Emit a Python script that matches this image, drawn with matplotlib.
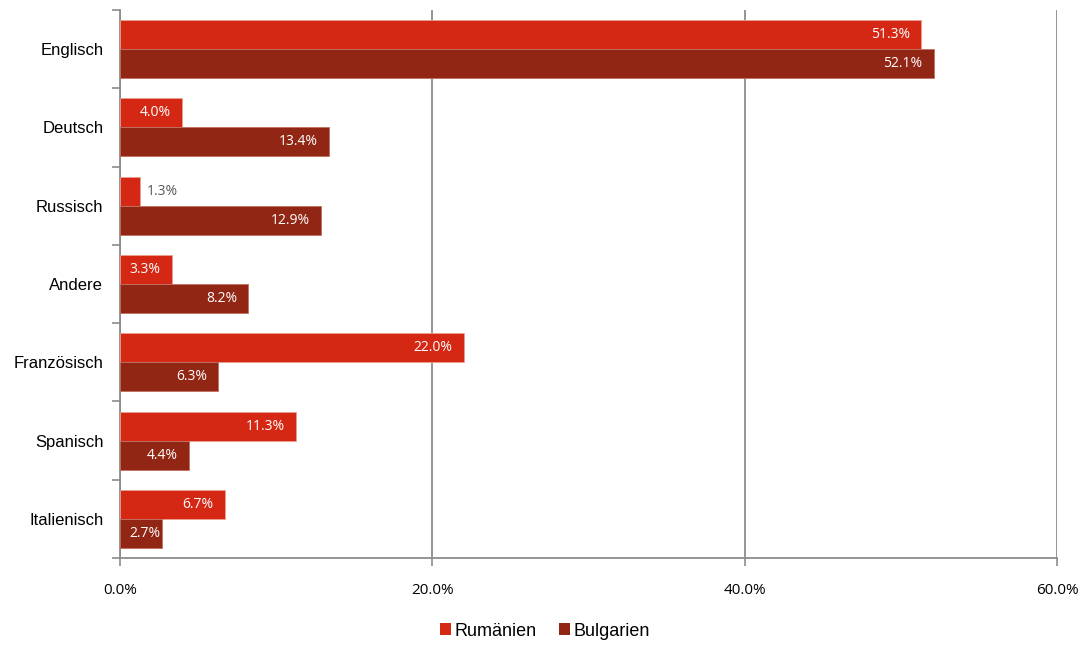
import matplotlib
matplotlib.use("Agg")
import matplotlib.pyplot as plt
import numpy as np

categories = ["Englisch", "Deutsch", "Russisch", "Andere", "Französisch", "Spanisch", "Italienisch"]
rumaenien = [51.3, 4.0, 1.3, 3.3, 22.0, 11.3, 6.7]
bulgarien = [52.1, 13.4, 12.9, 8.2, 6.3, 4.4, 2.7]
series_names = ["Rumänien", "Bulgarien"]
xticks = [0, 20, 40, 60]

c_rum = "#D42814"
c_bul = "#922614"
grid_c = "#8C8C8C"

fig = plt.figure(figsize=(10.83, 6.46), dpi=100)
ax = fig.add_axes([120/1083, 1-558/646, (1057-120)/1083, (558-10)/646])

y = np.arange(len(categories))
h = 0.37
b1 = ax.barh(y - h/2, rumaenien, height=h, color=c_rum, edgecolor="#E8A090", linewidth=0.6, label=series_names[0], zorder=3)
b2 = ax.barh(y + h/2, bulgarien, height=h, color=c_bul, edgecolor="#C07060", linewidth=0.6, label=series_names[1], zorder=3)

ax.set_xlim(0, 60)
ax.set_ylim(len(categories) - 0.5, -0.5)
ax.set_xticks(xticks)
ax.set_xticklabels([f"{v:.1f}%" for v in xticks], fontsize=11, family="Open Sans")
ax.set_yticks(y)
ax.set_yticklabels(categories, fontsize=12, family="Liberation Sans")
ax.set_yticks(np.arange(len(categories) + 1) - 0.5, minor=True)
ax.tick_params(axis="y", which="major", length=0, pad=12)
ax.tick_params(axis="y", which="minor", length=6, color=grid_c, width=1.2)
ax.tick_params(axis="x", length=6, color=grid_c, width=1.2, pad=12)

ax.grid(axis="x", color=grid_c, linewidth=1.3, zorder=0)
for s in ["top", "right"]:
    ax.spines[s].set_visible(False)
for s in ["left", "bottom"]:
    ax.spines[s].set_color(grid_c)
    ax.spines[s].set_linewidth(1.3)

def label(bars, vals):
    for bar, v in zip(bars, vals):
        yc = bar.get_y() + bar.get_height()/2
        if v < 2:
            ax.annotate(f"{v:.1f}%", (v, yc), xytext=(5, 0), textcoords="offset points",
                        ha="left", va="center", fontsize=10, color="#595959", family="Open Sans", zorder=4)
        elif v < 3:
            ax.annotate(f"{v:.1f}%", (v, yc), xytext=(-1, 0), textcoords="offset points",
                        ha="right", va="center", fontsize=10, color="white", family="Open Sans", zorder=4)
        else:
            ax.annotate(f"{v:.1f}%", (v, yc), xytext=(-8, 0), textcoords="offset points",
                        ha="right", va="center", fontsize=10, color="white", family="Open Sans", zorder=4)

label(b1, rumaenien)
label(b2, bulgarien)

leg = fig.legend(handles=[b1, b2], labels=series_names, loc="center", bbox_to_anchor=(545/1083, 1-631/646),
                 ncol=2, frameon=False, prop={"family": "Liberation Sans", "size": 13},
                 handlelength=0.6, handleheight=0.6, handletextpad=0.2, columnspacing=1.2)
for p in leg.legend_handles:
    p.set_edgecolor("none")

fig.savefig("out.png", dpi=100)
